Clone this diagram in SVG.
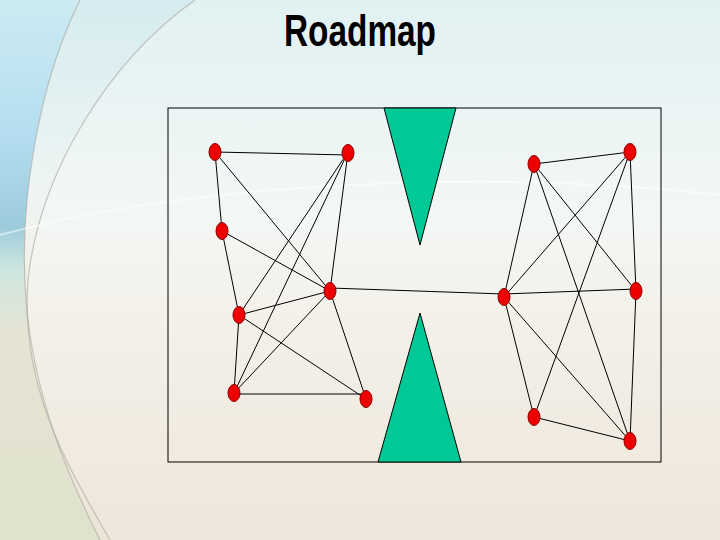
<svg xmlns="http://www.w3.org/2000/svg" width="720" height="540" viewBox="0 0 720 540">
<defs>
<linearGradient id="bg" x1="0" y1="0" x2="0" y2="1">
<stop offset="0" stop-color="#d6ecf0"/>
<stop offset="0.35" stop-color="#eef5f3"/>
<stop offset="0.55" stop-color="#f2efe6"/>
<stop offset="1" stop-color="#ece4d6"/>
</linearGradient>
<linearGradient id="leftband" x1="0" y1="0" x2="0" y2="1">
<stop offset="0" stop-color="#cdebf2"/>
<stop offset="0.25" stop-color="#b4def0"/>
<stop offset="0.42" stop-color="#9ccbdc"/>
<stop offset="0.5" stop-color="#cfe6e0"/>
<stop offset="0.62" stop-color="#e6e4d4"/>
<stop offset="1" stop-color="#dfe2cc"/>
</linearGradient>
<linearGradient id="inner" x1="0" y1="0" x2="0" y2="1">
<stop offset="0" stop-color="#e4f2f2"/>
<stop offset="0.4" stop-color="#f4f8f6"/>
<stop offset="0.6" stop-color="#f4f1ea"/>
<stop offset="1" stop-color="#efe7db"/>
</linearGradient>
<style>
.edge{stroke:#000;stroke-width:1;fill:none}
.node{fill:#ee0000;stroke:#8a0000;stroke-width:1}
.tri{fill:#00c896;stroke:#000;stroke-width:1}
.arc{fill:none;stroke:#b0aca4;stroke-width:1.2;opacity:0.7}
</style>
</defs>
<rect width="720" height="540" fill="url(#bg)"/>
<path d="M0 0 H80 C40 80 18 200 26 300 C34 400 70 480 100 540 H0 Z" fill="url(#leftband)"/>
<path d="M195 0 C110 60 40 170 28 280 C20 390 70 470 110 540 H720 V0 Z" fill="url(#inner)" opacity="0.8"/>
<path class="arc" d="M80 0 C40 80 18 200 26 300 C34 400 70 480 100 540"/>
<path class="arc" d="M195 0 C110 60 40 170 28 280 C20 390 70 470 110 540"/>
<path d="M0 235 C200 180 500 170 720 195" fill="none" stroke="#ffffff" stroke-width="2" opacity="0.5"/>
<text x="360" y="46" font-family="Liberation Sans, Arial, sans-serif" font-weight="bold" font-size="45" text-anchor="middle" textLength="152" lengthAdjust="spacingAndGlyphs" fill="#000">Roadmap</text>
<rect x="168" y="108" width="493" height="354" fill="none" stroke="#000" stroke-width="1"/>
<g id="obstacle-top"><polygon class="tri" points="384,108 456,108 420,245"/></g>
<g id="obstacle-bottom"><polygon class="tri" points="378,462 461,462 420,313"/></g>
<g id="connectors">
<line class="edge" x1="215" y1="152" x2="348" y2="155"/>
<line class="edge" x1="215" y1="152" x2="222" y2="231"/>
<line class="edge" x1="215" y1="152" x2="330" y2="291"/>
<line class="edge" x1="348" y1="152" x2="330" y2="291"/>
<line class="edge" x1="348" y1="152" x2="239" y2="315"/>
<line class="edge" x1="348" y1="152" x2="234" y2="393"/>
<line class="edge" x1="222" y1="231" x2="330" y2="291"/>
<line class="edge" x1="222" y1="231" x2="239" y2="315"/>
<line class="edge" x1="330" y1="291" x2="239" y2="315"/>
<line class="edge" x1="330" y1="291" x2="234" y2="393"/>
<line class="edge" x1="330" y1="291" x2="366" y2="399"/>
<line class="edge" x1="239" y1="315" x2="234" y2="393"/>
<line class="edge" x1="239" y1="315" x2="366" y2="399"/>
<line class="edge" x1="234" y1="394" x2="366" y2="394"/>
<line class="edge" x1="330" y1="288" x2="504" y2="294"/>
<line class="edge" x1="534" y1="164" x2="630" y2="152"/>
<line class="edge" x1="534" y1="164" x2="504" y2="297"/>
<line class="edge" x1="534" y1="164" x2="636" y2="291"/>
<line class="edge" x1="534" y1="164" x2="630" y2="441"/>
<line class="edge" x1="630" y1="152" x2="504" y2="297"/>
<line class="edge" x1="630" y1="152" x2="636" y2="291"/>
<line class="edge" x1="630" y1="152" x2="534" y2="417"/>
<line class="edge" x1="504" y1="294" x2="636" y2="289"/>
<line class="edge" x1="504" y1="297" x2="534" y2="417"/>
<line class="edge" x1="504" y1="297" x2="630" y2="441"/>
<line class="edge" x1="636" y1="291" x2="630" y2="441"/>
<line class="edge" x1="534" y1="417" x2="630" y2="441"/>
</g>
<g id="n1"><ellipse class="node" cx="215" cy="152" rx="6" ry="8.5"/></g>
<g id="n2"><ellipse class="node" cx="348" cy="153" rx="6" ry="8.5"/></g>
<g id="n3"><ellipse class="node" cx="222" cy="231" rx="6" ry="8.5"/></g>
<g id="n4"><ellipse class="node" cx="330" cy="291" rx="6" ry="8.5"/></g>
<g id="n5"><ellipse class="node" cx="239" cy="315" rx="6" ry="8.5"/></g>
<g id="n6"><ellipse class="node" cx="234" cy="393" rx="6" ry="8.5"/></g>
<g id="n7"><ellipse class="node" cx="366" cy="399" rx="6" ry="8.5"/></g>
<g id="n8"><ellipse class="node" cx="534" cy="164" rx="6" ry="8.5"/></g>
<g id="n9"><ellipse class="node" cx="630" cy="152" rx="6" ry="8.5"/></g>
<g id="n10"><ellipse class="node" cx="504" cy="297" rx="6" ry="8.5"/></g>
<g id="n11"><ellipse class="node" cx="636" cy="291" rx="6" ry="8.5"/></g>
<g id="n12"><ellipse class="node" cx="534" cy="417" rx="6" ry="8.5"/></g>
<g id="n13"><ellipse class="node" cx="630" cy="441" rx="6" ry="8.5"/></g>
</svg>
